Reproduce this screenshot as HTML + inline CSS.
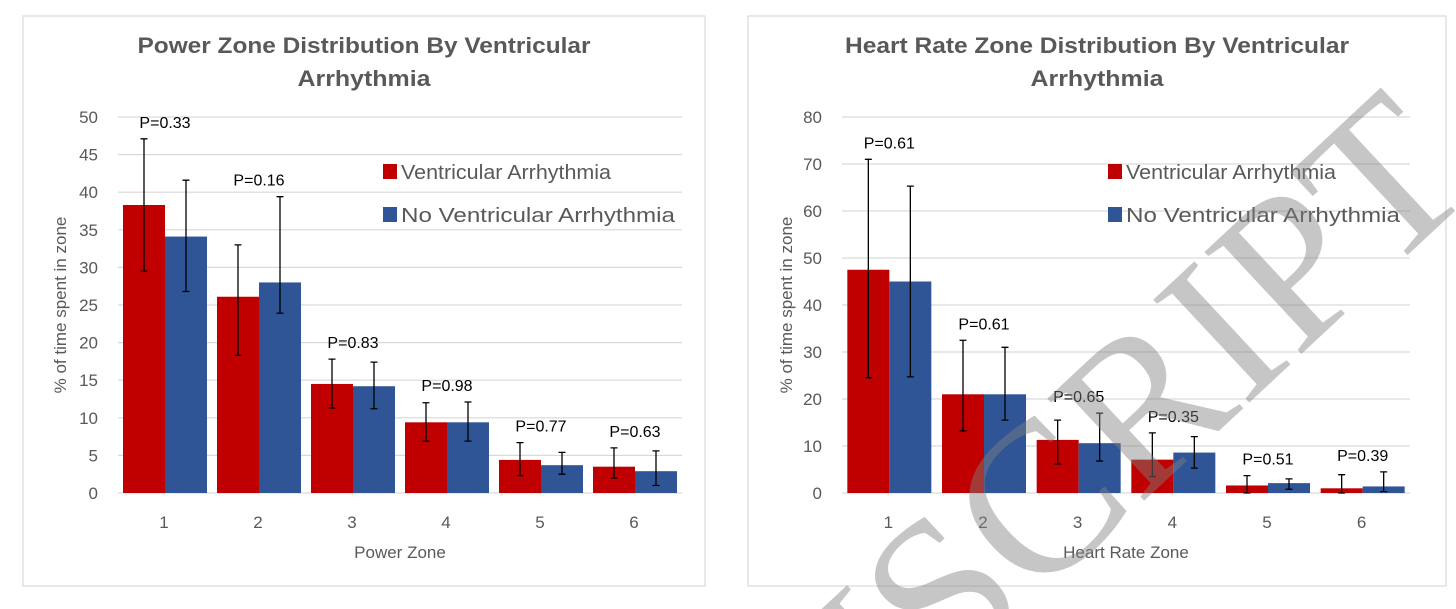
<!DOCTYPE html>
<html><head><meta charset="utf-8"><style>
html,body{margin:0;padding:0;background:#fff;width:1456px;height:609px;overflow:hidden;}
svg{display:block;font-family:"Liberation Sans",sans-serif;overflow:hidden;}
</style></head><body>
<svg id="svg" width="1456" height="609" viewBox="0 0 1456 609">
</svg>
<script>
const zones = ['1','2','3','4','5','6'];
// Power zone chart
const powerVA = [38.3,26.1,14.5,9.4,4.4,3.5];
const powerNoVA = [34.1,28.0,14.2,9.4,3.7,2.9];
const powerVALow = [29.5,18.3,11.3,6.9,2.3,2.0];
const powerVAHigh = [47.1,33.0,17.8,12.0,6.7,6.0];
const powerNoLow = [26.8,23.9,11.2,6.9,2.5,1.0];
const powerNoHigh = [41.6,39.4,17.4,12.1,5.4,5.6];
const powerP = ['P=0.33','P=0.16','P=0.83','P=0.98','P=0.77','P=0.63'];
const powerTicks = [0,5,10,15,20,25,30,35,40,45,50];
// Heart rate zone chart
const hrVA = [47.5,21.0,11.3,7.1,1.6,1.0];
const hrNoVA = [45.0,21.0,10.6,8.6,2.1,1.4];
const hrVALow = [24.5,13.2,6.2,3.5,0,0];
const hrVAHigh = [71.0,32.5,15.5,12.8,3.7,3.9];
const hrNoLow = [24.7,15.5,6.8,5.3,0.8,0.3];
const hrNoHigh = [65.3,31.0,17.0,12.0,3.0,4.5];
const hrP = ['P=0.61','P=0.61','P=0.65','P=0.35','P=0.51','P=0.39'];
const hrTicks = [0,10,20,30,40,50,60,70,80];

const NS='http://www.w3.org/2000/svg';
const svg=document.getElementById('svg');
function mk(tag,attrs,parent,text){const e=document.createElementNS(NS,tag);for(const k in attrs)e.setAttribute(k,attrs[k]);if(text!==undefined)e.textContent=text;(parent||svg).appendChild(e);return e;}

function chart(cfg){
  const g=mk('g',{});
  
  
  const fr=mk('rect',{x:cfg.fx,y:16,width:cfg.fw,height:570,fill:'#fff',stroke:'#d9d9d9','stroke-width':1.2},g);
  
  
  const tcx=cfg.fx+cfg.fw/2;
  const t1=mk('text',{x:tcx,y:53,'text-anchor':'middle','font-size':22,'font-weight':'bold',fill:'#595959',textLength:cfg.t1len,lengthAdjust:'spacingAndGlyphs'},g,cfg.title1);
  
  
  const t2=mk('text',{x:tcx,y:86,'text-anchor':'middle','font-size':22,'font-weight':'bold',fill:'#595959',textLength:133,lengthAdjust:'spacingAndGlyphs'},g,'Arrhythmia');
  
  
  const y0=493, yTop=117, max=cfg.ticks[cfg.ticks.length-1];
  const Y=v=>y0-(v/max)*(y0-yTop);
  const gw=(cfg.x1-cfg.x0)/zones.length;
  const X=i=>cfg.x0+gw*(i+0.5);
  cfg.ticks.forEach(t=>{
    const l=mk('line',{x1:cfg.x0,x2:cfg.x1,y1:Y(t),y2:Y(t),stroke:'#d9d9d9','stroke-width':1.2},g);
    
    
    const tx=mk('text',{x:cfg.x0-20,y:Y(t)+6,'text-anchor':'end','font-size':17,fill:'#595959'},g,String(t));
    
    
  });
  const bw=42;
  zones.forEach((z,i)=>{
    const c=X(i);
    const r=mk('rect',{x:c-bw,y:Y(cfg.a[i]),width:bw,height:y0-Y(cfg.a[i]),fill:'#c00000'},g);
    
    
    const b=mk('rect',{x:c,y:Y(cfg.b[i]),width:bw,height:y0-Y(cfg.b[i]),fill:'#2f5597'},g);
    
    
    [[c-bw/2,cfg.aLo[i],cfg.aHi[i]],[c+bw/2,cfg.bLo[i],cfg.bHi[i]]].forEach(([ex,lo,hi])=>{
      const e=mk('path',{d:`M${ex},${Y(lo)}V${Y(hi)}M${ex-3.5},${Y(lo)}H${ex+3.5}M${ex-3.5},${Y(hi)}H${ex+3.5}`,stroke:'#000','stroke-width':1.3,fill:'none'},g);
      
      
    });
    const top=Math.min(Y(cfg.aHi[i]),Y(cfg.bHi[i]));
    const p=mk('text',{x:c,y:top-11,'text-anchor':'middle','font-size':16,fill:'#000'},g,cfg.p[i]);
    
    
    const xl=mk('text',{x:c-1,y:528,'text-anchor':'middle','font-size':17,fill:'#595959'},g,z);
    
    
  });
  const xt=mk('text',{x:cfg.x0+(cfg.x1-cfg.x0)/2,y:558,'text-anchor':'middle','font-size':17,fill:'#595959'},g,cfg.xtitle);
  
  
  const yt=mk('text',{x:0,y:0,'text-anchor':'middle','font-size':17,fill:'#595959',transform:`translate(${cfg.ytx},305) rotate(-90)`},g,'% of time spent in zone');
  
  
  [['#c00000','Ventricular Arrhythmia',172,200],['#2f5597','No Ventricular Arrhythmia',215,264]].forEach(([col,lab,ly,len])=>{
    const s=mk('rect',{x:cfg.lx,y:ly-8,width:14,height:15,fill:col},g);
    
    
    const lt=mk('text',{x:cfg.lx+18,y:ly+7,'font-size':20,fill:'#595959',textLength:len+10,lengthAdjust:'spacingAndGlyphs'},g,lab);
    
    
  });
}
chart({name:'power-zone-chart',fx:23,fw:682,title1:'Power Zone Distribution By Ventricular',t1len:453,x0:118,x1:682,ticks:powerTicks,a:powerVA,b:powerNoVA,aLo:powerVALow,aHi:powerVAHigh,bLo:powerNoLow,bHi:powerNoHigh,p:powerP,xtitle:'Power Zone',ytx:66,lx:383});
chart({name:'heart-rate-zone-chart',fx:748,fw:698,title1:'Heart Rate Zone Distribution By Ventricular',t1len:504,x0:842,x1:1410,ticks:hrTicks,a:hrVA,b:hrNoVA,aLo:hrVALow,aHi:hrVAHigh,bLo:hrNoLow,bHi:hrNoHigh,p:hrP,xtitle:'Heart Rate Zone',ytx:792,lx:1108});
const wm=mk('text',{x:1430,y:135,'text-anchor':'end','dominant-baseline':'central','font-family':'"Liberation Serif",serif','font-size':215,fill:'#808080','fill-opacity':0.45,transform:'rotate(-43 1430 135)'},svg,'MANUSCRIPT');


</script>
</body></html>
